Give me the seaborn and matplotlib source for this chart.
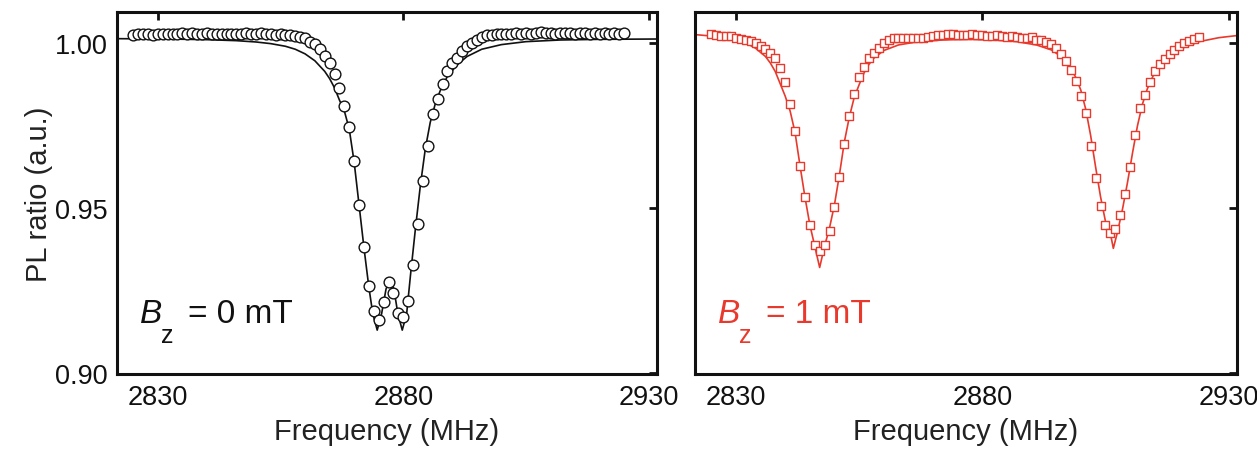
import matplotlib
matplotlib.use("Agg")
import matplotlib.pyplot as plt
import seaborn as sns
import pandas as pd

# ---- measured spectra (PL ratio vs microwave frequency) ----
freq_0mT = list(range(2825, 2926))
pl_0mT = [
    1.0026, 1.0027, 1.0028, 1.0027, 1.0026, 1.0028, 1.0027, 1.0028, 1.0029, 1.0027,
    1.0030, 1.0029, 1.0031, 1.0028, 1.0029, 1.0030, 1.0029, 1.0028, 1.0029, 1.0028,
    1.0029, 1.0027, 1.0028, 1.0030, 1.0028, 1.0029, 1.0030, 1.0028, 1.0027, 1.0026,
    1.0027, 1.0025, 1.0024, 1.0022, 1.0020, 1.0015, 1.0005, 0.9997, 0.9983, 0.9961,
    0.9939, 0.9906, 0.9865, 0.9810, 0.9746, 0.9642, 0.9510, 0.9383, 0.9265, 0.9187,
    0.9162, 0.9214, 0.9275, 0.9242, 0.9181, 0.9169, 0.9217, 0.9328, 0.9452, 0.9581,
    0.9689, 0.9785, 0.9830, 0.9876, 0.9917, 0.9939, 0.9956, 0.9978, 0.9991, 1.0002,
    1.0011, 1.0019, 1.0024, 1.0026, 1.0028, 1.0027, 1.0029, 1.0028, 1.0030, 1.0029,
    1.0031, 1.0029, 1.0030, 1.0034, 1.0030, 1.0031, 1.0029, 1.0032, 1.0030, 1.0031,
    1.0029, 1.0030, 1.0031, 1.0029, 1.0030, 1.0029, 1.0030, 1.0029, 1.0030, 1.0029,
    1.0031,
]

freq_1mT = list(range(2825, 2925))
pl_1mT = [
    1.0027, 1.0024, 1.0022, 1.0022, 1.0022, 1.0017, 1.0014, 1.0010, 1.0007, 1.0001,
    0.9992, 0.9984, 0.9972, 0.9954, 0.9926, 0.9883, 0.9817, 0.9734, 0.9628, 0.9534,
    0.9449, 0.9389, 0.9371, 0.9389, 0.9431, 0.9502, 0.9593, 0.9696, 0.9780, 0.9845,
    0.9899, 0.9928, 0.9954, 0.9972, 0.9987, 1.0000, 1.0010, 1.0015, 1.0016, 1.0016,
    1.0015, 1.0017, 1.0016, 1.0015, 1.0018, 1.0022, 1.0024, 1.0025, 1.0027, 1.0029,
    1.0026, 1.0025, 1.0026, 1.0028, 1.0025, 1.0024, 1.0023, 1.0021, 1.0024, 1.0022,
    1.0020, 1.0021, 1.0018, 1.0017, 1.0015, 1.0018, 1.0011, 1.0011, 1.0004, 0.9997,
    0.9986, 0.9969, 0.9947, 0.9920, 0.9887, 0.9840, 0.9788, 0.9689, 0.9590, 0.9507,
    0.9449, 0.9426, 0.9436, 0.9480, 0.9542, 0.9626, 0.9722, 0.9805, 0.9843, 0.9884,
    0.9915, 0.9936, 0.9953, 0.9969, 0.9980, 0.9991, 1.0000, 1.0006, 1.0012, 1.0018,
]

# ---- fitted curves ----
fit_freq_0mT = [2822, 2832, 2840, 2846, 2850, 2853, 2856, 2858, 2860, 2862, 2864,
                2865, 2866, 2867, 2868, 2869, 2870, 2871, 2872, 2873, 2873.8, 2874.7,
                2875.6, 2876.5, 2877.3, 2878.1, 2878.9, 2879.8, 2880.7, 2881.5,
                2882.5, 2883.5, 2884.5, 2885.5, 2886.5, 2887.5, 2889, 2891, 2893,
                2896, 2900, 2905, 2912, 2920, 2932]
fit_pl_0mT = [1.0014, 1.0013, 1.0011, 1.0008, 1.0004, 0.9999, 0.9991, 0.9982,
              0.9968, 0.9947, 0.9915, 0.9893, 0.9865, 0.9828, 0.9795, 0.9740,
              0.9640, 0.9510, 0.9380, 0.9260, 0.9180, 0.9130, 0.9180, 0.9255,
              0.9280, 0.9255, 0.9180, 0.9130, 0.9180, 0.9300, 0.9440, 0.9570,
              0.9680, 0.9760, 0.9815, 0.9855, 0.9900, 0.9935, 0.9960, 0.9982,
              0.9996, 1.0005, 1.0010, 1.0012, 1.0013]

fit_freq_1mT = [2822, 2825, 2828, 2830, 2832, 2834, 2836, 2837, 2838, 2839, 2840,
                2841, 2842, 2843, 2844, 2845, 2846, 2847, 2848, 2849, 2850, 2851,
                2852, 2853, 2854, 2855, 2856, 2857, 2858, 2860, 2863, 2867, 2872,
                2877, 2882, 2887, 2891, 2894, 2896, 2897, 2898, 2899, 2900, 2901,
                2902, 2903, 2904, 2905, 2905.9, 2906.6, 2907.5, 2908.5, 2909.5,
                2910.5, 2911.5, 2912.5, 2913.5, 2915, 2917, 2920, 2924, 2928, 2932]
fit_pl_1mT = [1.0026, 1.0022, 1.0016, 1.0010, 1.0001, 0.9985, 0.9960, 0.9940,
              0.9914, 0.9877, 0.9840, 0.9795, 0.9730, 0.9630, 0.9535, 0.9450,
              0.9385, 0.9320, 0.9385, 0.9440, 0.9510, 0.9600, 0.9700, 0.9775,
              0.9835, 0.9874, 0.9910, 0.9936, 0.9955, 0.9978, 0.9995, 1.0005,
              1.0010, 1.0012, 1.0010, 1.0005, 0.9995, 0.9980, 0.9960, 0.9944,
              0.9923, 0.9896, 0.9858, 0.9800, 0.9720, 0.9625, 0.9535, 0.9460,
              0.9431, 0.9378, 0.9431, 0.9500, 0.9580, 0.9668, 0.9750, 0.9815,
              0.9862, 0.9912, 0.9950, 0.9982, 1.0005, 1.0017, 1.0024]

x_ticks = [2830, 2880, 2930]
y_ticks = [0.90, 0.95, 1.00]
y_tick_labels = ["0.90", "0.95", "1.00"]

RED = "#e8392c"
INK = "#111111"

sns.set_theme(style="white")
plt.rcParams["font.family"] = ["Liberation Sans", "DejaVu Sans"]

fig = plt.figure(figsize=(12.57, 4.52), dpi=100)
ax_l = fig.add_axes([0.0931, 0.1704, 0.4296, 0.8009])
ax_r = fig.add_axes([0.5529, 0.1704, 0.4312, 0.8009])

panels = [
    (ax_l, freq_0mT, pl_0mT, fit_freq_0mT, fit_pl_0mT, INK, "o", 60, "0"),
    (ax_r, freq_1mT, pl_1mT, fit_freq_1mT, fit_pl_1mT, RED, "s", 30, "1"),
]

for ax, f, v, ff, fv, col, mk, ms, bz in panels:
    fit_df = pd.DataFrame({"f": ff, "v": fv})
    dat_df = pd.DataFrame({"f": f, "v": v})
    sns.lineplot(data=fit_df, x="f", y="v", ax=ax, color=col, lw=1.2,
                 estimator=None, sort=False, zorder=2)
    sns.scatterplot(data=dat_df, x="f", y="v", ax=ax, marker=mk, s=ms,
                    facecolor="white", edgecolor=col, linewidth=1.0, zorder=3)

    ax.set_xlim(2821.7, 2931.7)
    ax.set_ylim(0.8997, 1.0095)
    ax.set_xticks(x_ticks)
    ax.set_xticklabels([str(t) for t in x_ticks])
    ax.set_yticks(y_ticks)
    ax.tick_params(axis="both", which="major", direction="in", length=6, width=2.0,
                   top=True, right=True, labelsize=19.5, pad=7, colors=INK,
                   labelcolor="#111111")
    for sp in ax.spines.values():
        sp.set_linewidth(2.2)
        sp.set_color(INK)
    ax.set_xlabel("Frequency (MHz)", fontsize=21, color="#222222")
    ax.xaxis.set_label_coords(0.5, -0.118)
    ax.set_facecolor("white")

    # field label
    ax.text(0.043, 0.143, "B", transform=ax.transAxes, fontsize=24, style="italic",
            color=col, ha="left", va="baseline")
    ax.text(0.082, 0.088, "z", transform=ax.transAxes, fontsize=18,
            color=col, ha="left", va="baseline")
    ax.text(0.131, 0.143, "= " + bz + " mT", transform=ax.transAxes, fontsize=24,
            color=col, ha="left", va="baseline")

ax_l.set_yticklabels(y_tick_labels)
ax_l.set_ylabel("PL ratio (a.u.)", fontsize=21, color="#222222")
ax_l.yaxis.set_label_coords(-0.118, 0.5)
ax_r.set_yticklabels([])
ax_r.set_ylabel("")

fig.savefig("out.png", dpi=100, facecolor="white")
